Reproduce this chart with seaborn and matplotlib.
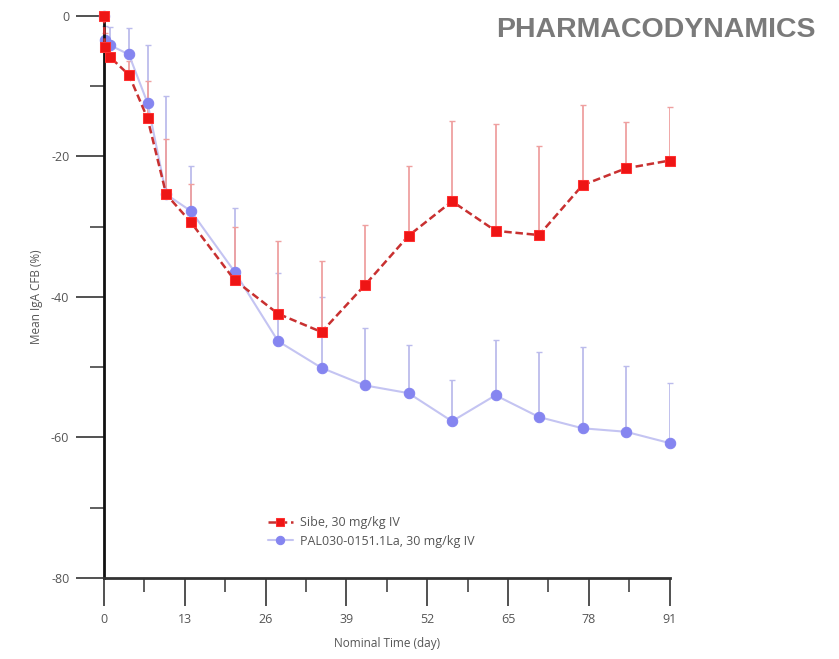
import numpy as np
import pandas as pd
import matplotlib
matplotlib.use("Agg")
import matplotlib.pyplot as plt
import seaborn as sns
from matplotlib.ticker import MultipleLocator

# nominal days
days = [0, 0.1, 1, 4, 7, 10, 14, 21, 28, 35, 42, 49, 56, 63, 70, 77, 84, 91]

# Sibe, 30 mg/kg IV - mean and upper error limit
sibe_mean = [0, -4.4, -5.9, -8.4, -14.6, -25.4, -29.4, -37.6, -42.4, -45.0,
             -38.3, -31.3, -26.4, -30.6, -31.2, -24.1, -21.7, -20.6]
sibe_upper = [0, -2.5, -4.0, -6.5, -9.3, -17.6, -24.0, -30.0, -32.1, -34.9,
              -29.7, -21.4, -14.9, -15.4, -18.5, -12.7, -15.1, -13.0]

# PAL030-0151.1La, 30 mg/kg IV
pal_mean = [0, -3.5, -4.2, -5.5, -12.4, -25.4, -27.8, -36.4, -46.3, -50.1,
            -52.6, -53.7, -57.7, -54.0, -57.1, -58.7, -59.2, -60.8]
pal_upper = [0, -1.5, -1.6, -1.7, -4.2, -11.4, -21.4, -27.4, -36.6, -40.0,
             -44.5, -46.8, -51.9, -46.1, -47.9, -47.2, -49.9, -52.2]

lbl_sibe = "Sibe, 30 mg/kg IV"
lbl_pal = "PAL030-0151.1La, 30 mg/kg IV"

df = pd.concat([
    pd.DataFrame({"day": days, "cfb": sibe_mean, "grp": lbl_sibe}),
    pd.DataFrame({"day": days, "cfb": pal_mean, "grp": lbl_pal}),
])

sns.set_style("white")
plt.rcParams["font.family"] = ["Open Sans", "DejaVu Sans"]
plt.rcParams["axes.unicode_minus"] = False

fig = plt.figure(figsize=(8.39, 6.59), dpi=100)
ax = fig.add_axes([0.124, 0.123, 0.674, 0.853])

red = "#ee1515"
red_line = "#c83030"
purple = "#8585f0"
purple_line = "#c4c4f2"

# error bars (upper only)
ax.errorbar(days, pal_mean, yerr=[np.zeros(len(days)), np.array(pal_upper) - np.array(pal_mean)],
            fmt="none", ecolor="#bcbcec", elinewidth=1.3, capsize=2.5, zorder=1)
ax.errorbar(days, sibe_mean, yerr=[np.zeros(len(days)), np.array(sibe_upper) - np.array(sibe_mean)],
            fmt="none", ecolor="#efa0a0", elinewidth=1.3, capsize=2.5, zorder=1)

sns.lineplot(data=df[df.grp == lbl_pal], x="day", y="cfb", ax=ax, color=purple_line,
             marker="o", markersize=7.5, markerfacecolor=purple, markeredgecolor=purple,
             linewidth=1.5, label=lbl_pal, zorder=2)
sns.lineplot(data=df[df.grp == lbl_sibe], x="day", y="cfb", ax=ax, color=red_line,
             marker="s", markersize=7.5, markerfacecolor=red, markeredgecolor="#ff3030",
             linewidth=1.8, linestyle=(0, (3, 1.5)), label=lbl_sibe, zorder=3)

ax.set_xlim(0, 91)
ax.set_ylim(-80, 0)
ax.xaxis.set_major_locator(MultipleLocator(13))
ax.xaxis.set_minor_locator(MultipleLocator(6.5))
ax.yaxis.set_major_locator(MultipleLocator(20))
ax.yaxis.set_minor_locator(MultipleLocator(10))
ax.tick_params(axis="both", which="major", length=20, width=1.2, color="#333333",
               labelsize=9, labelcolor="#555555", pad=5, bottom=True, left=True)
ax.tick_params(axis="both", which="minor", length=10, width=1.2, color="#444444",
               bottom=True, left=True)

sns.despine(ax=ax)
ax.spines["left"].set_linewidth(2)
ax.spines["left"].set_color("#111111")
ax.spines["bottom"].set_linewidth(2)
ax.spines["bottom"].set_color("#333333")

ax.set_xlabel("Nominal Time (day)", fontsize=8.5, color="#555555", labelpad=8)
ax.set_ylabel("Mean IgA CFB (%)", fontsize=8.5, color="#555555", labelpad=6)

handles, labels = ax.get_legend_handles_labels()
order = [labels.index(lbl_sibe), labels.index(lbl_pal)]
ax.legend([handles[i] for i in order], [labels[i] for i in order],
          loc="upper left", bbox_to_anchor=(0.27, 0.13), frameon=False,
          fontsize=9, labelcolor="#555555", handlelength=2.0, markerscale=0.8,
          handletextpad=0.6, labelspacing=0.45)

fig.text(0.972, 0.955, "PHARMACODYNAMICS", ha="right", va="center",
         fontsize=20.5, fontweight="bold", color="#7a7a7a", family="Liberation Sans")

for line in ax.lines:
    line.set_clip_on(False)

fig.savefig("out.png", dpi=100)
